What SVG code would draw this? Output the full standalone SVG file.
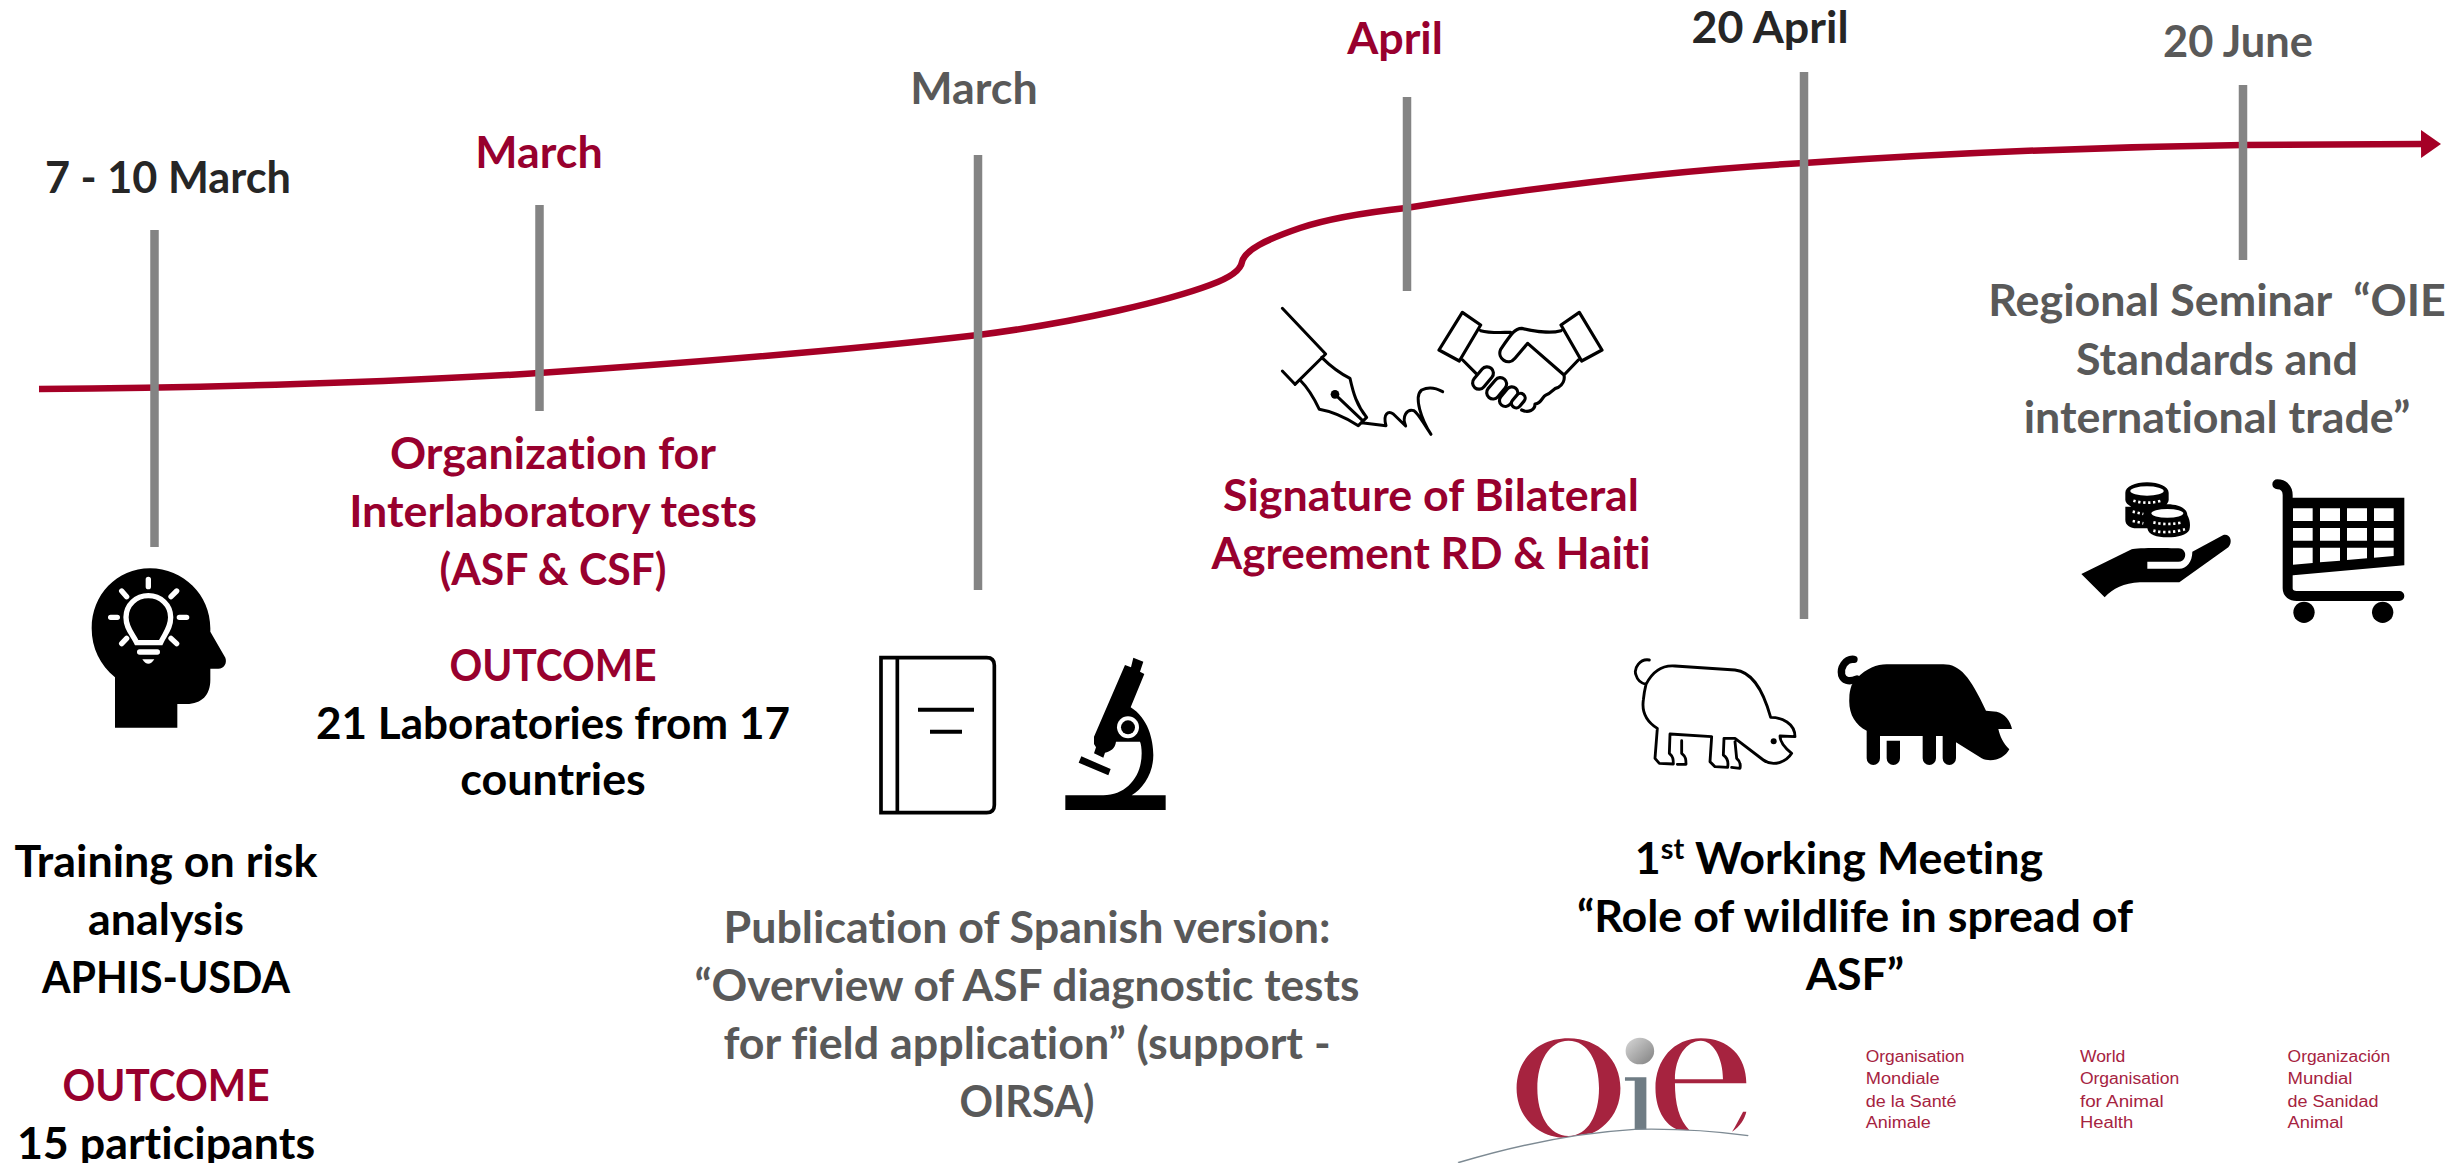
<svg xmlns="http://www.w3.org/2000/svg" width="2458" height="1163" viewBox="0 0 2458 1163">
<style>
text{font-family:Lato,"Open Sans","Liberation Sans",sans-serif;font-weight:700;font-size:44.8px;text-anchor:middle;white-space:pre;font-variant-ligatures:none}
.t{transform:translateY(1.5px)}
.r{fill:#98002e}.k{fill:#000}.d{fill:#262626}.g{fill:#595959}
.bar{stroke:#848484;stroke-width:8.5;fill:none}
.ln{fill:none;stroke:#000;stroke-linecap:round;stroke-linejoin:round}
text.lg{font-family:"Liberation Sans",sans-serif;font-weight:400;font-size:48px;fill:#a6233f;text-anchor:start}
</style>
<defs>
<marker id="ah" markerUnits="userSpaceOnUse" markerWidth="22" markerHeight="32" refX="1" refY="16" orient="auto"><path d="M0,2L20,16L0,30Z" fill="#a50026"/></marker>
<linearGradient id="gl" x1="0" y1="0" x2="1" y2="1"><stop offset="0" stop-color="#d8d8d8"/><stop offset="1" stop-color="#808080"/></linearGradient>
</defs>
<g id="connectors">
<path d="M39,389C200,388 400,382 539,373C700,362 850,350 978,335C1080,322 1170,300 1210,285C1235,276 1241,268 1242,262C1245,250 1265,240 1300,228C1330,218 1370,212 1406,208C1550,185 1680,170 1804,163C1950,153 2100,147 2243,145L2422,144" fill="none" stroke="#a50026" stroke-width="6.500" marker-end="url(#ah)"/>
<path class="bar" d="M154.500,230V547M539.500,205V411M978,155V590M1407,97V291M1804,72V619M2243,85V260"/>
</g>
<g id="date-1" class="t"><text class="d" x="168" y="191" textLength="246" lengthAdjust="spacingAndGlyphs">7 - 10 March</text></g>
<g id="date-2" class="t"><text class="r" x="539" y="166">March</text></g>
<g id="date-3" class="t"><text class="g" x="974" y="102">March</text></g>
<g id="date-4" class="t"><text class="r" x="1395" y="52">April</text></g>
<g id="date-5" class="t"><text class="d" x="1770" y="41">20 April</text></g>
<g id="date-6" class="t"><text class="g" x="2238" y="55" textLength="150" lengthAdjust="spacingAndGlyphs">20 June</text></g>
<g id="training" class="t">
<text class="k" x="166" y="875">Training on risk</text>
<text class="k" x="166" y="933">analysis</text>
<text class="k" x="166" y="991" textLength="248" lengthAdjust="spacingAndGlyphs">APHIS-USDA</text>
<text class="r" x="166" y="1099" textLength="207" lengthAdjust="spacingAndGlyphs">OUTCOME</text>
<text class="k" x="166" y="1157">15 participants</text>
</g>
<g id="interlab" class="t">
<text class="r" x="553" y="467">Organization for</text>
<text class="r" x="553" y="525">Interlaboratory tests</text>
<text class="r" x="553" y="583" textLength="227" lengthAdjust="spacingAndGlyphs">(ASF &amp; CSF)</text>
<text class="r" x="553" y="679" textLength="207" lengthAdjust="spacingAndGlyphs">OUTCOME</text>
<text class="k" x="553" y="737" textLength="474" lengthAdjust="spacingAndGlyphs">21 Laboratories from 17</text>
<text class="k" x="553" y="793">countries</text>
</g>
<g id="publication" class="t">
<text class="g" x="1027" y="941">Publication of Spanish version:</text>
<text class="g" x="1027" y="999" textLength="665" lengthAdjust="spacingAndGlyphs">“Overview of ASF diagnostic tests</text>
<text class="g" x="1027" y="1057">for field application” (support -</text>
<text class="g" x="1027" y="1115" textLength="135" lengthAdjust="spacingAndGlyphs">OIRSA)</text>
</g>
<g id="signature" class="t">
<text class="r" x="1431" y="509">Signature of Bilateral</text>
<text class="r" x="1431" y="567" textLength="439" lengthAdjust="spacingAndGlyphs">Agreement RD &amp; Haiti</text>
</g>
<g id="meeting" class="t">
<text class="k" x="1839" y="872">1<tspan font-size="29" dy="-15">st</tspan><tspan dy="15"> Working Meeting</tspan></text>
<text class="k" x="1855" y="930">“Role of wildlife in spread of</text>
<text class="k" x="1855" y="988">ASF”</text>
</g>
<g id="seminar" class="t">
<text class="g" x="2217" y="314">Regional Seminar  “OIE</text>
<text class="g" x="2217" y="373">Standards and</text>
<text class="g" x="2217" y="431">international trade”</text>
</g>
<g id="icon-head" transform="translate(0,500) scale(.33333)">
<path d="M345,683V532C300,495 275,445 275,385C275,285 350,205 450,205C550,205 631,285 631,385V395L676,473C682,490 672,506 655,506H631V540C631,585 605,612 560,612H532V683Z"/>
<path d="M410,428H482C495,400 512,385 512,352C512,315 482,287 445,287C408,287 378,315 378,352C378,385 397,400 410,428Z" fill="none" stroke="#fff" stroke-width="16"/>
<path d="M445,238V260M365,273L380,290M530,273L513,290M332,352H352M538,352H560M365,431L380,415M530,431L513,415M419,456H472" fill="none" stroke="#fff" stroke-width="16" stroke-linecap="round"/>
<path d="M427,478H463Q445,505 427,478Z" fill="#fff"/>
</g>
<g id="icon-book" transform="translate(840,620) scale(.33333)">
<path d="M123,113H440Q463,113 463,136V555Q463,578 440,578H123ZM172,113V578" fill="none" stroke="#000" stroke-width="11"/>
<path d="M234,269H402M270,335H366" stroke="#000" stroke-width="12"/>
</g>
<g id="icon-microscope" transform="translate(840,620) scale(.33333)">
<path d="M676,526H977V570H676ZM724,409L812,447L805,466L716,428ZM855,135L873,142L880,113L910,125L900,155L913,162L872,262C925,295 940,360 940,405C940,460 910,505 875,526H790C860,525 905,470 905,400C905,385 903,372 900,365H828C826,385 810,395 795,398L790,413L762,400L768,382L762,372V350Z"/>
<circle cx="864" cy="322" r="33" fill="#fff"/><circle cx="864" cy="322" r="21"/>
</g>
<g id="icon-pen" transform="translate(1240,280) scale(.33333)">
<path class="ln" stroke-width="9" d="M127,85L257,222L165,313L127,273M245,232C275,262 300,280 330,295C340,340 350,375 380,412L355,437C320,415 280,395 238,388C220,350 205,325 180,300M285,343L368,422M365,428L438,437C428,400 445,392 460,402L497,438C485,410 500,385 522,392C535,400 550,430 573,463C545,420 520,350 545,330C565,320 590,325 608,335"/>
<circle cx="285" cy="343" r="13"/>
</g>
<g id="icon-handshake" transform="translate(1240,280) scale(.33333)">
<path class="ln" stroke-width="9.500" d="M667,97L722,135L658,243L597,210ZM1018,97L963,135L1025,243L1086,210ZM722,152C750,160 785,157 812,157M963,152C930,162 890,155 845,145C825,145 815,160 782,208C770,235 805,260 825,235L863,190L972,285C975,300 968,315 955,322C938,325 935,340 918,345C905,350 908,368 885,372C885,390 865,400 845,390M1015,240L972,285M668,240L708,280"/>
<g fill="#fff" stroke="#000" stroke-width="9.500">
<rect x="-38" y="-19" width="76" height="38" rx="19" transform="translate(729,294) rotate(-50)"/>
<rect x="-36" y="-19" width="72" height="38" rx="19" transform="translate(770,325) rotate(-50)"/>
<rect x="-33" y="-18" width="66" height="36" rx="18" transform="translate(806,350) rotate(-50)"/>
<rect x="-24" y="-14" width="48" height="28" rx="14" transform="translate(835,362) rotate(-50)"/>
</g>
</g>
<g id="icon-pig-outline" transform="translate(1600,630) scale(.33333)">
<path class="ln" stroke-width="8.500" d="M148,90C120,85 100,115 108,135C112,150 125,160 138,163M138,163C160,120 190,105 225,108L405,120C450,125 485,165 512,262C545,262 585,280 585,320L540,318C540,335 550,350 575,370C560,395 520,412 490,390L405,325H372L370,375C385,385 385,400 383,412L345,410L330,395L335,320L210,312L208,370C220,380 220,390 220,402L178,400L165,385L172,295C140,275 125,245 130,210C132,190 135,175 138,163ZM245,332V370C258,380 258,390 258,403H232M405,335L410,385C422,395 422,405 420,415L395,412"/>
<circle cx="521" cy="334" r="9"/>
</g>
<g id="icon-pig-solid" transform="translate(1600,630) scale(.33333)">
<path d="M770,145C800,115 830,103 860,103H1030C1080,103 1110,140 1158,242L1190,245C1215,250 1232,275 1236,297H1195C1200,320 1210,340 1228,358C1215,385 1175,400 1145,385L1068,337V385A20,20 0 0 1 1028,385V318H1008V385A20,20 0 0 1 968,385V318H840V385A20,20 0 0 1 800,385V302C765,285 745,250 748,205C748,190 750,180 755,165ZM860,332H900V385A20,20 0 0 1 860,385Z"/>
<path class="ln" stroke-width="22" d="M762,88C735,85 720,115 725,135C730,150 745,158 770,147"/>
</g>
<g id="icon-coins" transform="translate(2060,460) scale(.33333)">
<path d="M64,342L215,268C230,262 350,265 355,265C372,265 378,280 375,290C372,300 365,305 355,305H262V326H358C380,326 397,305 397,275L490,225C510,220 520,245 505,262L358,367H240C190,370 160,385 134,412Z"/>
<path d="M196,98C196,80 225,67 261,67C297,67 326,80 326,98V120C326,135 300,150 261,150C225,150 196,135 196,120ZM196,140H270V205H230C210,205 196,195 196,180ZM262,165C262,145 290,133 322,133C355,133 382,145 382,165C390,180 392,195 388,210C380,225 355,232 322,232C290,232 265,225 262,205Z"/>
<ellipse cx="261" cy="93" rx="50" ry="14" fill="#fff"/><ellipse cx="322" cy="160" rx="48" ry="13" fill="#fff"/>
<path d="M220,122Q260,134 305,122M218,155L250,162M218,183L250,190M280,187Q322,197 368,187M280,212Q322,222 375,208" fill="none" stroke="#fff" stroke-width="8" stroke-dasharray="7 8"/>
</g>
<g id="icon-cart" transform="translate(2060,460) scale(.33333)">
<path d="M683,113H1033V316L683,347ZM699,145V183H758V145ZM780,145V183H840V145ZM861,145V183H921V145ZM942,145V183H1001V145ZM699,204V242H758V204ZM780,204V242H840V204ZM861,204V242H921V204ZM942,204V242H1001V204ZM699,263V314L758,309V263ZM780,263V307L840,302V263ZM861,263V300L921,295V263ZM942,263V293L1001,288V263Z" fill-rule="evenodd"/>
<path class="ln" stroke-width="30" d="M652,73C670,73 683,85 683,105V385C683,400 695,408 710,408H1018"/>
<circle cx="732" cy="457" r="32"/><circle cx="968" cy="457" r="32"/>
</g>
<g id="logo" transform="translate(1440,1020) scale(.649,.33333)">
<path fill="#a6233f" fill-rule="evenodd" d="M198,55C245,55 278,120 278,205C278,290 245,355 198,355C150,355 118,290 118,205C118,120 150,55 198,55ZM198,62C168,62 150,125 150,205C150,285 168,348 198,348C228,348 245,285 245,205C245,125 228,62 198,62Z"/>
<ellipse cx="308" cy="93" rx="22" ry="40" fill="url(#gl)"/>
<path fill="#6f7c84" d="M285,172H318V330H300V182H285Z"/>
<path fill="#a6233f" fill-rule="evenodd" d="M472,190C472,110 445,55 402,55C360,55 332,120 332,205C332,275 350,325 372,332H385C368,300 362,250 362,190ZM362,178H436C436,110 420,62 402,62C380,62 362,110 362,178ZM450,335C462,320 470,295 472,275H467C460,300 455,320 450,335Z"/>
<path fill="#fff" d="M0,430H25C110,380 200,340 300,328C370,325 430,335 475,347L500,430Z"/>
<path fill="none" stroke="#7d8a93" stroke-width="4" d="M28,428C110,380 200,340 300,328C370,325 430,335 475,347"/>
<g>
<text class="lg" x="656" y="127" textLength="152" lengthAdjust="spacingAndGlyphs">Organisation</text>
<text class="lg" x="656" y="192" textLength="114" lengthAdjust="spacingAndGlyphs">Mondiale</text>
<text class="lg" x="656" y="260" textLength="140" lengthAdjust="spacingAndGlyphs">de la Santé</text>
<text class="lg" x="656" y="324" textLength="100" lengthAdjust="spacingAndGlyphs">Animale</text>
<text class="lg" x="986" y="127" textLength="70" lengthAdjust="spacingAndGlyphs">World</text>
<text class="lg" x="986" y="192" textLength="153" lengthAdjust="spacingAndGlyphs">Organisation</text>
<text class="lg" x="986" y="260" textLength="129" lengthAdjust="spacingAndGlyphs">for Animal</text>
<text class="lg" x="986" y="324" textLength="82" lengthAdjust="spacingAndGlyphs">Health</text>
<text class="lg" x="1306" y="127" textLength="158" lengthAdjust="spacingAndGlyphs">Organización</text>
<text class="lg" x="1306" y="192" textLength="100" lengthAdjust="spacingAndGlyphs">Mundial</text>
<text class="lg" x="1306" y="260" textLength="140" lengthAdjust="spacingAndGlyphs">de Sanidad</text>
<text class="lg" x="1306" y="324" textLength="86" lengthAdjust="spacingAndGlyphs">Animal</text>
</g>
</g>
</svg>
